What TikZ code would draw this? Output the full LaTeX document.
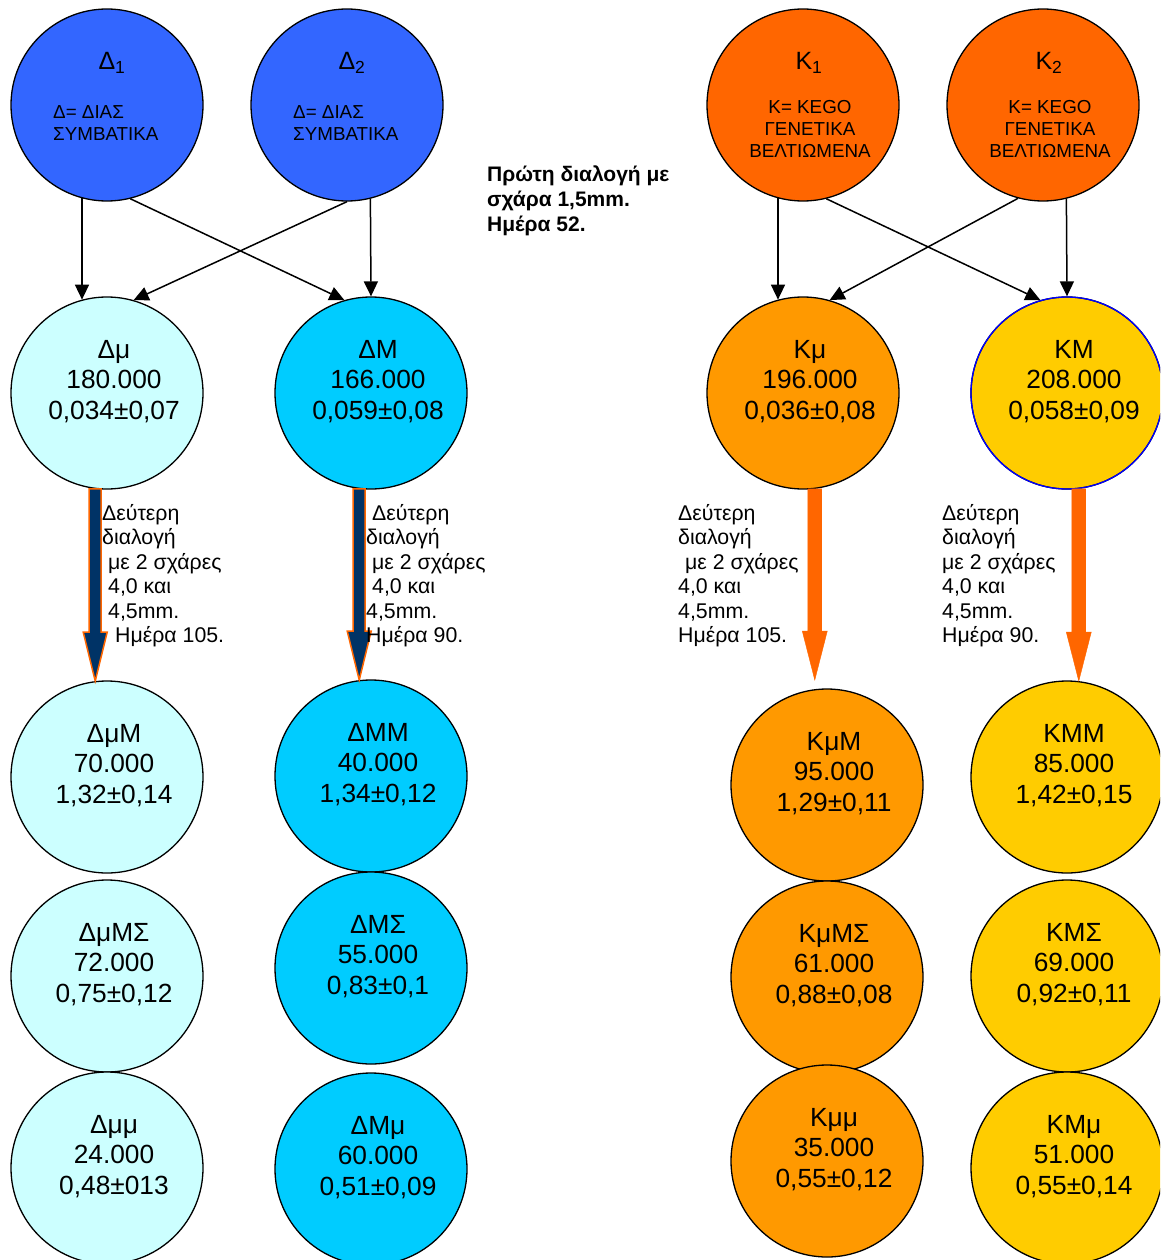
\documentclass[tikz,border=0pt]{standalone}
\usepackage{fontspec}
\setmainfont{Liberation Sans}
\usepackage{tikz}
\usetikzlibrary{arrows.meta,calc,positioning}
\tikzset{every picture/.style={
  >={Triangle[length=15pt,width=14pt]}   % Solid black heads.
  }
}
\definecolor{diasblue}{HTML}{3366FF}
\definecolor{diaspale}{HTML}{CCFFFF}
\definecolor{diascyan}{HTML}{00CCFF}
\definecolor{kegored}{HTML}{FF6600}
\definecolor{kegoamber}{HTML}{FF9900}
\definecolor{kegogold}{HTML}{FFCC00}
\definecolor{sievenavy}{HTML}{003366}

\begin{document}
\begin{tikzpicture}[
        x=1pt, y=-1pt,
        fish/.style={
          circle,
          draw,
          line width=1.3pt,
          fill=#1,
          minimum size=192pt,
          inner sep=0pt
        },
        tally/.style={font=\fontsize{26.3}{30.5}\selectfont, align=center, inner sep=0pt},
        parent/.style={font=\fontsize{25}{25}\selectfont, anchor=base, inner sep=0pt},
        origin/.style={font=\fontsize{18.8}{22.3}\selectfont, inner sep=0pt},
        sievetext/.style={font=\fontsize{21.3}{24.5}\selectfont, align=left, anchor=north west, inner sep=0pt},
        cross/.style={->, line width=1.5pt}]

        \useasboundingbox (0,0) rectangle (1160,1260);
        \clip (0,0) rectangle (1160,1260);

        % Helper macros.
        \def\batch#1#2#3#4#5#6{
          \node[fish=#3] (#1) at (#2) {};
          \node[tally] (#1-text) at ([shift={(7,-11.5)}]#1.center) {#4\\#5\\#6};}
        \newcommand\blockarrow[5]{\filldraw[#1] let \p1=(#2), \p2=(#3) in
          (\x1-#4,\y1) -- (\x1+#4,\y1) -- (\x1+#4,\y2+49pt) -- (\x1+#5,\y2+49pt)
          -- (\x1,\y2) -- (\x1-#5,\y2+49pt) -- (\x1-#4,\y2+49pt) -- cycle;}

        % Parent stocks.
        \node[fish=diasblue] (d1) at (107,105) {};
        \node[parent] (d1-name) at (112,70) {Δ\textsubscript{1}};
        \node[origin, align=left, anchor=north west] (d1-text) at (53,105) {Δ= ΔΙΑΣ\\ΣΥΜΒΑΤΙΚΑ};
        \node[fish=diasblue] (d2) at (347,105) {};
        \node[parent] (d2-name) at (352,70) {Δ\textsubscript{2}};
        \node[origin, align=left, anchor=north west] (d2-text) at (293,105) {Δ= ΔΙΑΣ\\ΣΥΜΒΑΤΙΚΑ};
        \node[fish=kegored] (k1) at (803,105) {};
        \node[parent] (k1-name) at (809,70) {K\textsubscript{1}};
        \node[origin, align=center, anchor=north] (k1-text) at (810,100) {K= KEGO\\ΓΕΝΕΤΙΚΑ\\ΒΕΛΤΙΩΜΕΝΑ};
        \node[fish=kegored] (k2) at (1043,105) {};
        \node[parent] (k2-name) at (1049,70) {K\textsubscript{2}};
        \node[origin, align=center, anchor=north] (k2-text) at (1050,100) {K= KEGO\\ΓΕΝΕΤΙΚΑ\\ΒΕΛΤΙΩΜΕΝΑ};

        % First sorting.
        \batch{dm}{107,393}{diaspale}{Δμ}{180.000}{0,034±0,07}
        \batch{dM}{371,393}{diascyan}{ΔΜ}{166.000}{0,059±0,08}
        \batch{km}{803,393}{kegoamber}{Κμ}{196.000}{0,036±0,08}
        \batch{kM}{1067,393}{kegogold}{ΚΜ}{208.000}{0,058±0,09}
        \draw[blue, line width=1.3pt] (kM) circle (96pt);

        \node[font=\fontsize{21}{25}\selectfont\bfseries, align=left, anchor=north west,
          inner sep=0pt] (first) at (487,166) {Πρώτη διαλογή με\\σχάρα 1,5mm.\\Ημέρα 52.};

        % Second sorting.
        \batch{dmM}{107,777}{diaspale}{ΔμΜ}{70.000}{1,32±0,14}
        \batch{dmS}{107,976}{diaspale}{ΔμΜΣ}{72.000}{0,75±0,12}
        \batch{dmm}{107,1168}{diaspale}{Δμμ}{24.000}{0,48±013}
        \batch{dMM}{371,776}{diascyan}{ΔΜΜ}{40.000}{1,34±0,12}
        \batch{dMS}{371,968}{diascyan}{ΔΜΣ}{55.000}{0,83±0,1}
        \batch{dMm}{371,1169}{diascyan}{ΔΜμ}{60.000}{0,51±0,09}
        \batch{kmM}{827,785}{kegoamber}{ΚμΜ}{95.000}{1,29±0,11}
        \batch{kmS}{827,977}{kegoamber}{ΚμΜΣ}{61.000}{0,88±0,08}
        \batch{kmm}{827,1161}{kegoamber}{Κμμ}{35.000}{0,55±0,12}
        \batch{kMM}{1067,777}{kegogold}{ΚΜΜ}{85.000}{1,42±0,15}
        \batch{kMS}{1067,976}{kegogold}{ΚΜΣ}{69.000}{0,92±0,11}
        \batch{kMm}{1067,1168}{kegogold}{ΚΜμ}{51.000}{0,55±0,14}

        % Crossings.
        \draw[cross] (d1.255) -- (dm.105);
        \draw[cross] (d1.284) -- (dM.106);
        \draw[cross] (d2.south) -- (dm.74);
        \draw[cross] (d2.284) -- (dM.north);
        \draw[cross] (k1.255) -- (km.105);
        \draw[cross] (k1.284) -- (kM.106);
        \draw[cross] (k2.255) -- (km.74);
        \draw[cross] (k2.284) -- (kM.north);

        % Block arrows.
        \blockarrow{fill=sievenavy, draw=kegored, line width=1.5pt}{dm.263}{dmM.97}{6pt}{12pt}
        \blockarrow{fill=sievenavy, draw=kegored, line width=1.5pt}{dM.263}{dMM.97}{6pt}{12pt}
        \blockarrow{fill=kegored, draw=kegored}{km.277}{[yshift=9pt]kmM.97}{7pt}{12.5pt}
        \blockarrow{fill=kegored, draw=kegored}{kM.277}{kMM.83}{7pt}{12.5pt}

        % Labels.
        \node[sievetext] (n1) at (102,504) {Δεύτερη\\διαλογή\\\hspace*{6pt}με 2 σχάρες\\
          \hspace*{6pt}4,0 και\\\hspace*{6pt}4,5mm.\\\hspace*{13pt}Ημέρα 105.};
        \node[sievetext] (n2) at (366,504) {\hspace*{6pt}Δεύτερη\\διαλογή\\\hspace*{6pt}με 2 σχάρες\\
          \hspace*{6pt}4,0 και\\4,5mm.\\Ημέρα 90.};
        \node[sievetext] (n3) at (678,504) {Δεύτερη\\διαλογή\\\hspace*{7pt}με 2 σχάρες\\
          4,0 και\\4,5mm.\\Ημέρα 105.};
        \node[sievetext] (n4) at (942,504) {Δεύτερη\\διαλογή\\με 2 σχάρες\\
          4,0 και\\4,5mm.\\Ημέρα 90.};
      \end{tikzpicture}
\end{document}
